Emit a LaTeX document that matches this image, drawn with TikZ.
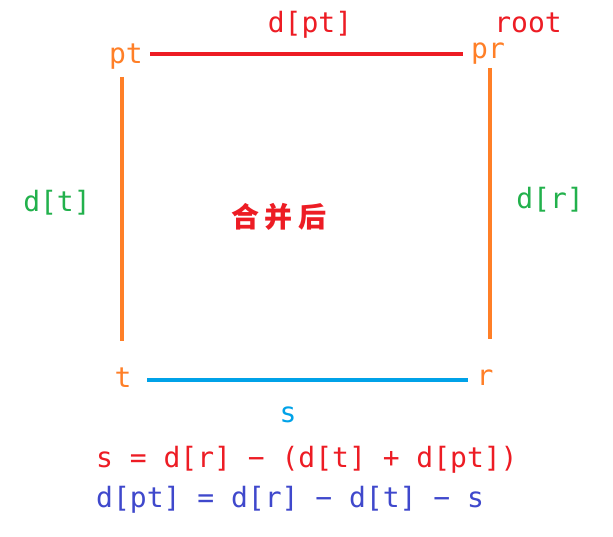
\documentclass[tikz,border=0pt]{standalone}
\usepackage{fontspec}
\setmainfont{DejaVu Sans Mono}
\newfontfamily\cjk{Noto Sans CJK SC}
\definecolor{porange}{HTML}{FF7F27}
\definecolor{pred}{HTML}{ED1C24}
\definecolor{pgreen}{HTML}{22B14C}
\definecolor{pblue}{HTML}{00A2E8}
\definecolor{pindigo}{HTML}{3F48CC}
\begin{document}
\begin{tikzpicture}[x=1pt,y=-1pt,
  lbl/.style={inner sep=0pt,font=\fontsize{28}{30}\selectfont},
  vert/.style={inner sep=0pt,font=\fontsize{28}{30}\selectfont,text=porange},
  edge/.style={line width=3.5pt}]
\useasboundingbox (0,0) rectangle (613,537);
\fill[white] (0,0) rectangle (613,537);
% vertices
\node[vert] (pt) at (126,57) {pt};
\node[vert] (pr) at (488,54) {pr};
\node[vert] (t) at (123,378) {t};
\node[vert] (r) at (485,378) {r};
\node[lbl,text=pred] (root) at (528,23) {root};
% edge endpoints
\coordinate (a1) at (150,54);
\coordinate (a2) at (463,54);
\coordinate (b1) at (122,77);
\coordinate (b2) at (122,341);
\coordinate (c1) at (490,68);
\coordinate (c2) at (490,339);
\coordinate (d1) at (147,380);
\coordinate (d2) at (468,380);
\draw[edge,pred] (a1) -- (a2);
\draw[edge,porange] (b1) -- (b2);
\draw[edge,porange] (c1) -- (c2);
\draw[edge,pblue] (d1) -- (d2);
% labels
\node[lbl,text=pred] (lpt) at (310,25) {d[pt]};
\node[lbl,text=pgreen] (lt) at (57,203) {d[t]};
\node[lbl,text=pgreen] (lr) at (550,200) {d[r]};
\node[lbl,text=pblue] (ls) at (288,415) {s};
\node[inner sep=0pt,text=pred,font=\cjk\bfseries\fontsize{28}{30}\selectfont] (mid) at (279,217) {合\hspace{6pt}并\hspace{6pt}后};
\node[lbl,text=pred,anchor=west] (eq1) at (96,460) {s = d[r] − (d[t] + d[pt])};
\node[lbl,text=pindigo,anchor=west] (eq2) at (96,500) {d[pt] = d[r] − d[t] − s};
\end{tikzpicture}
\end{document}
